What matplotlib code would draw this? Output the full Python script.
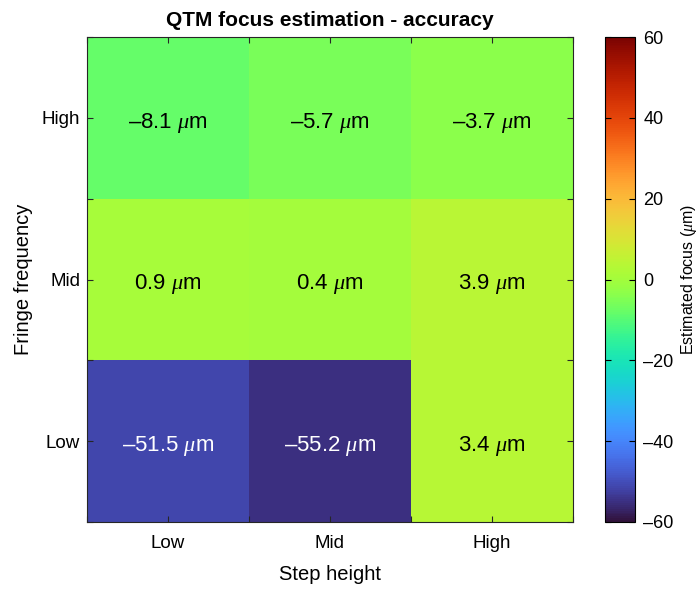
import matplotlib
matplotlib.use("Agg")
import matplotlib.pyplot as plt
import numpy as np

plt.rcParams['font.family'] = ['Liberation Sans', 'DejaVu Sans']
plt.rcParams['mathtext.fontset'] = 'custom'
plt.rcParams['mathtext.it'] = 'Liberation Serif:italic'
plt.rcParams['mathtext.rm'] = 'Liberation Sans'

step_labels = ["Low", "Mid", "High"]
fringe_labels = ["Low", "Mid", "High"]
# rows: fringe Low, Mid, High ; cols: step Low, Mid, High
values = np.array([
    [-51.5, -55.2, 3.4],
    [0.9, 0.4, 3.9],
    [-8.1, -5.7, -3.7],
])
vmin, vmax = -60, 60
cbar_ticks = [-60, -40, -20, 0, 20, 40, 60]

fig = plt.figure(figsize=(6.99, 5.89), dpi=100)
W, H = 699, 589
ax = fig.add_axes([87 / W, 1 - 522 / H, (573 - 87) / W, (522 - 37) / H])
cax = fig.add_axes([605 / W, 1 - 522 / H, (635 - 605) / W, (522 - 37) / H])

edges = np.arange(0.5, 3.51, 1.0)
im = ax.pcolormesh(edges, edges, values, cmap='turbo', vmin=vmin, vmax=vmax,
                   shading='flat', edgecolors='none')

for i in range(3):
    for j in range(3):
        v = values[i, j]
        s = (u"\u2013" if v < 0 else "") + f"{abs(v):.1f}" + r" $\mu$m"
        col = 'white' if v < -40 else 'black'
        ax.text(j + 1, i + 1 - 0.03, s, ha='center', va='center', fontsize=16, color=col)

ticks = np.arange(0.5, 3.51, 0.5)
def labs(names):
    out = []
    for t in ticks:
        if abs(t - round(t)) < 1e-6 and 1 <= round(t) <= 3:
            out.append(names[int(round(t)) - 1])
        else:
            out.append("")
    return out

ax.set_xticks(ticks)
ax.set_xticklabels(labs(step_labels))
ax.set_yticks(ticks)
ax.set_yticklabels(labs(fringe_labels))
ax.tick_params(direction='in', top=True, right=True, length=4, width=0.8,
               labelsize=13.5, color='#262626')
ax.tick_params(axis='y', pad=5)
ax.tick_params(axis='x', pad=9)
ax.set_xlim(0.5, 3.5)
ax.set_ylim(0.5, 3.5)
for sp in ax.spines.values():
    sp.set_color('#262626')
    sp.set_linewidth(0.8)
ax.set_xlabel("Step height", fontsize=14.5, labelpad=10)
ax.set_ylabel("Fringe frequency", fontsize=14.5, labelpad=6)
ax.set_title("QTM focus estimation - accuracy", fontsize=15, fontweight='bold', pad=8)

cb = fig.colorbar(im, cax=cax, ticks=cbar_ticks)
cb.ax.set_yticklabels([(u"\u2013" if t < 0 else "") + str(abs(t)) for t in cbar_ticks])
cb.ax.tick_params(direction='in', length=4, width=0.8, labelsize=13, left=True, right=True, pad=6)
cb.outline.set_linewidth(0.8)
cb.set_label(r"Estimated focus ($\mu$m)", fontsize=11.5, rotation=90, va='center')
cb.ax.yaxis.set_label_coords((689 - 605) / 30, 0.5)

fig.savefig("out.png", dpi=100)
